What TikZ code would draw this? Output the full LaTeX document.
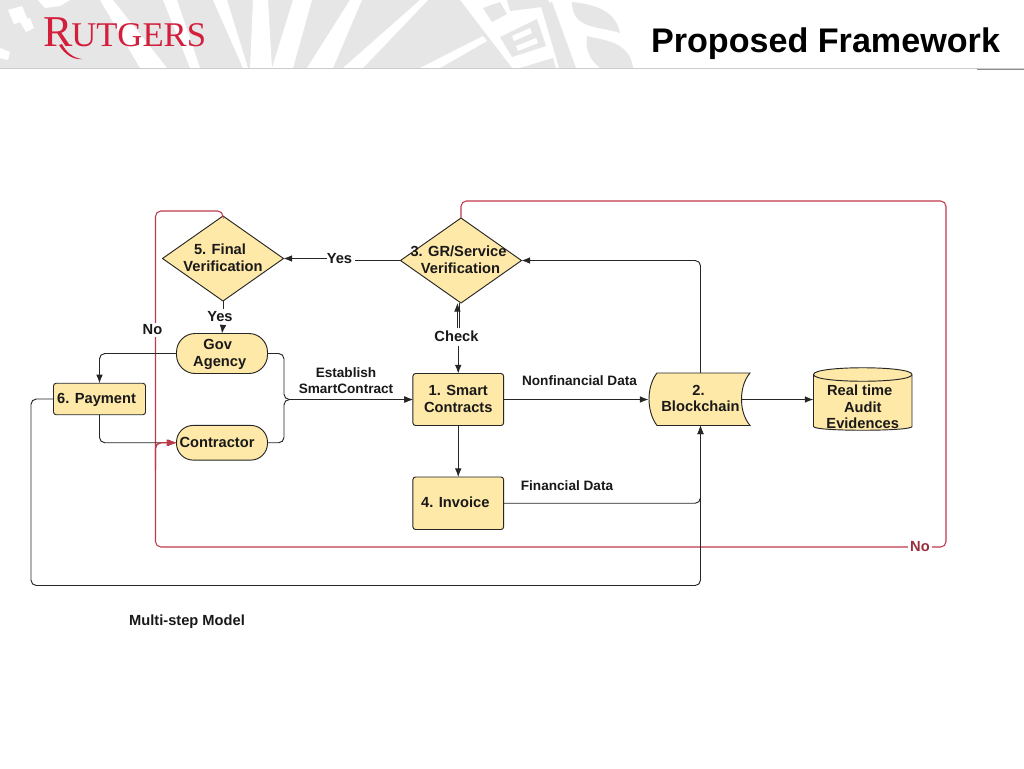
\documentclass[tikz,border=0pt]{standalone}
\usepackage{fontspec}
\setmainfont{Liberation Sans}
\newfontfamily\serifrut{Liberation Serif}
\usetikzlibrary{arrows.meta,shapes.geometric}
\definecolor{boxfill}{HTML}{FFE9A8}
\definecolor{rutred}{HTML}{D21F3C}
\definecolor{noline}{HTML}{C0394B}
\definecolor{band}{HTML}{E6E6E6}
\tikzset{
 x=0.75pt,y=-0.75pt,
 lbl/.style={font=\bfseries\fontsize{11}{12.4}\selectfont,align=center,inner sep=0pt,text=black!90},
 lblsmall/.style={lbl,font=\bfseries\fontsize{10.2}{11.8}\selectfont},
 wire/.style={draw=black!85,line width=0.7pt,rounded corners=4pt,-{Latex[length=6.5pt,width=5pt]}},
 plainwire/.style={draw=black!85,line width=0.7pt,rounded corners=4pt},
 redwire/.style={draw=noline,line width=0.8pt,rounded corners=4pt},
 shapeline/.style={draw=black!85,line width=0.7pt,fill=boxfill,inner sep=0pt,outer sep=0pt},
 rbox/.style={shapeline,rectangle,rounded corners=2pt},
 pill/.style={shapeline,rectangle,minimum width=68.25pt},
 decide/.style={shapeline,diamond,minimum width=90.75pt,minimum height=63.75pt,aspect=1.42,line join=round},
 gap/.style={fill=white,inner sep=1.5pt},
 stripe/.style={fill=white,draw=none},
 island/.style={fill=band,draw=none},
}
\begin{document}
\begin{tikzpicture}
\useasboundingbox (0,0) rectangle (1024,768);
\fill[white] (0,0) rectangle (1024,768);
% header band: grey field, white spokes, grey islands of the seal
\fill[band] (0,0) -- (460,0) -- (512,68) -- (0,68) -- cycle;
\fill[stripe] (100,0) -- (113,0) -- (167,68) -- (140,68) -- cycle;
\fill[stripe] (163,0) -- (177,0) -- (200,68) -- (190,68) -- cycle;
\fill[stripe] (213,0) -- (227,0) -- (248,68) -- (243,68) -- cycle;
\fill[stripe] (253,0) -- (268,0) -- (272,68) -- (250,68) -- cycle;
\fill[stripe] (293,0) -- (312,0) -- (293,68) -- (272,68) -- cycle;
\fill[stripe] (350,0) -- (362,0) -- (333,68) -- (307,68) -- cycle;
\fill[stripe] (420,0) -- (428,0) -- (363,68) -- (343,68) -- cycle;
\fill[stripe] (420,68) -- (483,36) -- (487,41) -- (440,68) -- cycle;
\fill[stripe] (8,10) -- (22,6) -- (28,20) -- (14,24) -- cycle;
\fill[stripe] (20,22) -- (30,18) -- (34,28) -- (26,32) -- cycle;
\fill[stripe] (0,48) -- (10,52) -- (8,60) -- (0,58) -- cycle;
\fill[stripe] (38,0) -- (70,0) -- (60,6) -- (45,8) -- cycle;
\fill[island] (483,8) -- (500,2) -- (507,14) -- (492,22) -- cycle;
\fill[island] (507,0) -- (548,0) -- (550,6) -- (510,11) -- cycle;
\fill[island] (500,37) -- (537,19) -- (546,46) -- (512,57) -- cycle;
\fill[stripe] (512,36) -- (530,28) -- (532,33) -- (514,41) -- cycle;
\fill[stripe] (516,46) -- (536,38) -- (538,43) -- (518,51) -- cycle;
\fill[island] (520,68) -- (553,58) -- (556,68) -- cycle;
\fill[island] (541,6) -- (552,2) -- (576,68) -- (559,68) -- cycle;
\fill[island] (572,2) .. controls (590,4) and (615,8) .. (620,33) .. controls (600,26) and (572,30) .. (572,2) -- cycle;
\fill[island] (587,36) .. controls (600,40) and (630,40) .. (633,68) -- (600,68) .. controls (590,60) and (585,50) .. (587,36) -- cycle;
\draw[black!20,line width=0.6pt] (0,68.5) -- (1024,68.5);
\draw[black!45,line width=0.8pt] (977,69.5) -- (1024,69.5);
\node (logo) at (43,46) [anchor=base west,inner sep=0pt,text=rutred,font=\serifrut] {\fontsize{33}{33}\selectfont R\kern-1pt\fontsize{26}{26}\selectfont UTGERS};
\fill[rutred] (62,44) .. controls (66,52) and (73,58) .. (82,59) .. controls (74,60) and (65,55) .. (59,45) -- cycle;
\node (title) at (825.5,44) [inner sep=0pt,font=\bfseries\fontsize{25.6}{28}\selectfont] {Proposed Framework};
% blockchain body, drawn under its node
\draw[shapeline] (657,373) .. controls (652,379) and (649,389) .. (649,399.25) .. controls (649,409) and (652,419) .. (657,425.5) -- (750,425.5)
  .. controls (744,418) and (741.5,409) .. (741.5,399.25) .. controls (741.5,390) and (744,380) .. (750,373) -- cycle;
% cylinder
\draw[shapeline] (813.5,374.5) -- (813.5,426.5) .. controls (813.5,431.5) and (912,431.5) .. (912,426.5) -- (912,374.5)
  .. controls (912,365.5) and (813.5,365.5) .. (813.5,374.5) -- cycle;
\draw[draw=black!85,line width=0.7pt] (813.5,374.5) .. controls (813.5,383.5) and (912,383.5) .. (912,374.5);
% nodes
\node (final) at (223,258.5) [decide,label={[lbl,yshift=0.7pt]center:{5. Final\hspace*{4.5pt}\\Verification}}] {};
\node (gs) at (461,260.5) [decide,label={[lbl,xshift=-0.4pt,yshift=0.6pt]center:{3. GR/Service\hspace*{3pt}\\Verification}}] {};
\node (gov) at (222,353.5) [pill,rounded corners=14pt,minimum height=30pt,label={[lbl,xshift=-1.7pt,yshift=-0.8pt]center:{Gov\hspace*{3pt}\\Agency}}] {};
\node (con) at (222,442.75) [pill,rounded corners=12.5pt,minimum height=26pt,label={[lbl,xshift=-3.7pt,yshift=0.5pt]center:Contractor}] {};
\node (pay) at (99.5,399) [rbox,minimum width=69pt,minimum height=23.6pt,label={[lbl,xshift=-2.2pt,yshift=-1pt]center:6. Payment}] {};
\node (sc) at (458.25,399.5) [rbox,minimum width=68pt,minimum height=39pt,label={[lbl,yshift=0.5pt]center:{1. Smart\\Contracts}}] {};
\node (inv) at (458.25,503.25) [rbox,minimum width=68pt,minimum height=39.4pt,label={[lbl,xshift=-2.2pt,yshift=0.7pt]center:4. Invoice}] {};
\node (bc) at (700.5,399.25) [minimum width=76pt,minimum height=39.4pt,inner sep=0pt,outer sep=0pt,label={[lbl,yshift=0.7pt]center:{2.\hspace*{3pt}\\Blockchain}}] {};
\node (cyl) at (862.75,399.5) [minimum width=74pt,minimum height=45pt,inner sep=0pt,outer sep=0pt,label={[lbl,xshift=0pt,yshift=-5.5pt]center:{Real time\hspace*{4.5pt}\\Audit\\Evidences}}] {};
% connector bends and ends
\coordinate (yesL) at (327,258.5);
\coordinate (yesR) at (355,260.5);
\coordinate (junction) at (284,399.5);
\coordinate (redA) at (155.5,470);
\coordinate (redCorner1) at (155.5,211);
\coordinate (redCorner2) at (155.5,547);
\coordinate (redCorner3) at (946,547);
\coordinate (redCorner4) at (946,201);
\coordinate (noL) at (910,547);
\coordinate (noR) at (930,547);
\coordinate (yesD) at (223,309);
\coordinate (yesU) at (223,325);
\coordinate (chkL) at (457.4,328);
\coordinate (chkR) at (459.6,328);
\coordinate (chkD) at (458.25,346);
\coordinate (redTip) at (176.5,442.75);
\coordinate (redBend) at (166,442.75);
% connectors
\draw[redwire] (final.north) -- (223,211) -- (redCorner1) -- (redCorner2) -- (noL);
\draw[redwire] (noR) -- (redCorner3) -- (redCorner4) -- (461,201) -- (gs.north);
\draw[plainwire] (gs.west) -- (yesR);
\draw[wire] (yesL) -- (final.east);
\draw[plainwire] (final.south) -- (yesD);
\draw[wire] (yesU) -- (gov.north);
\draw[wire] (gov.west) -| (pay.north);
\draw[wire] (pay.south) |- (con.west);
\draw[redwire,line width=1.1pt] (redA) |- (redBend);
\fill[noline] (redTip) -- (166.5,439.4) -- (166.5,446.1) -- cycle;
\draw[wire] (pay.west) -- (31,399) |- (700.5,585.5) -- (bc.south);
\draw[wire] (gov.east) -| (junction) -- (sc.west);
\draw[wire] (con.east) -| (junction) -- (sc.west);
\draw[wire] (sc.east) -- (648.5,399.5);
\draw[wire] (sc.south) -- (inv.north);
\draw[wire] (inv.east) -| (bc.south);
\draw[wire] (bc.north) |- (gs.east);
\draw[wire] (741.5,399.5) -- (cyl.west);
\draw[plainwire] (chkR) -- (chkR |- gs.south);
\draw[wire] (chkL) -- (chkL |- gs.south);
\draw[wire] (chkD) -- (sc.north);
% labels
\node (tyes1) at (339.5,258.5) [lbl] {Yes};
\node (tyes2) at (220,316.5) [lbl] {Yes};
\node (tno) at (152.5,330) [lbl,gap] {No};
\node (tes) at (346,380.5) [lblsmall] {Establish\\SmartContract};
\node (tcheck) at (456.5,336.5) [lbl] {Check};
\node (tnf) at (579.5,380.5) [lblsmall] {Nonfinancial Data};
\node (tfd) at (567,485.5) [lblsmall] {Financial Data};
\node (tno2) at (920,546.5) [lbl,text=noline!80!black,gap] {No};
\node (tms) at (187,622) [lbl] {Multi-step Model};
\end{tikzpicture}
\end{document}
